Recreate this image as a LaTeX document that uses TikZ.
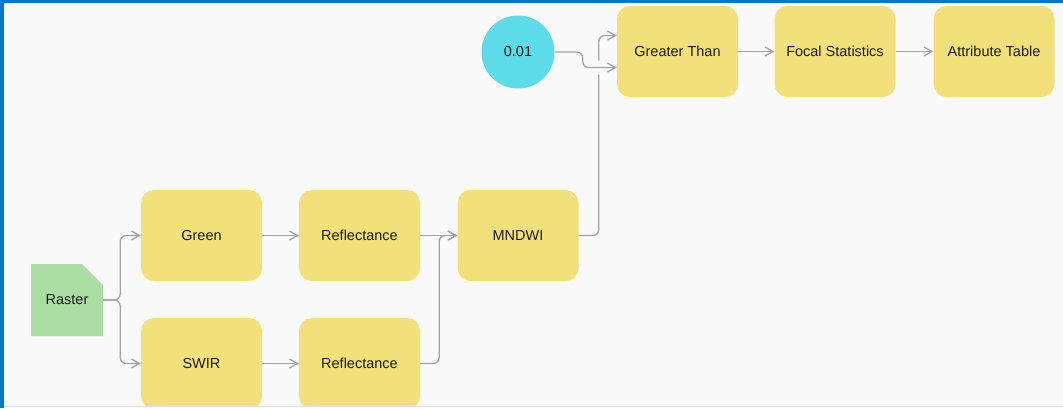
\documentclass[tikz,border=0pt]{standalone}
\usepackage{fontspec}
\setmainfont{Liberation Sans}
\usetikzlibrary{arrows.meta,calc}
\definecolor{canvas}{HTML}{F9F9F9}
\definecolor{frame}{HTML}{0877CB}
\definecolor{tool}{HTML}{F2E17A}
\definecolor{data}{HTML}{ABDCA4}
\definecolor{value}{HTML}{5EDBE8}
\definecolor{wire}{HTML}{A3A3A3}
\definecolor{ink}{HTML}{1C1C1C}
\tikzset{
  stepbox/.style={rectangle, rounded corners=13pt, fill=tool, minimum width=121pt,
    minimum height=91pt, inner sep=0pt, text=ink, font=\fontsize{14.5pt}{17pt}\selectfont},
  valnode/.style={circle, fill=value, minimum size=73pt, inner sep=0pt, text=ink,
    font=\fontsize{14.5pt}{17pt}\selectfont},
  datanode/.style={rectangle, minimum width=72pt, minimum height=72pt, inner sep=0pt,
    text=ink, font=\fontsize{14.5pt}{17pt}\selectfont},
  conn/.style={draw=wire, line width=1.3pt, rounded corners=6pt,
    -{Straight Barb[length=8pt,width=9pt,line width=1.3pt]}},
  gap/.style={draw=canvas, line width=14pt, rounded corners=6pt}
}
\begin{document}
\begin{tikzpicture}[x=1pt,y=-1pt]
  % canvas and frame
  \fill[canvas] (0,0) rectangle (1063,408);
  \useasboundingbox (0,0) rectangle (1063,408);
  \begin{scope}
  \clip (0,0) rectangle (1063,406);

  % input raster with folded corner
  \fill[data] (31,264) -- (82,264) -- (103,285) -- (103,336) -- (31,336) -- cycle;
  \node[datanode] (raster) at (67,300) {Raster};

  % processing steps
  \node[stepbox] (green) at (201.5,235.5) {Green};
  \node[stepbox] (swir)  at (201.5,363.5) {SWIR};
  \node[stepbox] (refa)  at (359.5,235.5) {Reflectance};
  \node[stepbox] (refb)  at (359.5,363.5) {Reflectance};
  \node[stepbox] (mndwi) at (518,235.5) {MNDWI};
  \node[valnode] (thr)   at (518,52) {0.01};
  \node[stepbox] (gt)    at (677.5,51.5) {Greater Than};
  \node[stepbox] (focal) at (835,51.5) {Focal Statistics};
  \node[stepbox] (attr)  at (994,51.5) {Attribute Table};

  % connectors
  \draw[conn] (raster.east) -- ++(17,0) |- (green.west);
  \draw[conn] (raster.east) -- ++(17,0) |- (swir.west);
  \draw[conn] (green.east) -- (refa.west);
  \draw[conn] (swir.east) -- (refb.west);
  \draw[conn] (refa.east) -- (mndwi.west);
  \draw[conn] (refb.east) -- ++(19,0) |- (mndwi.west);
  \draw[conn] (mndwi.east) -- ++(20,0) |- ([yshift=16pt]gt.west);
  \draw[gap] (thr.east) -- ++(28,0) |- ([yshift=-16pt]gt.west);
  \draw[conn] (thr.east) -- ++(28,0) |- ([yshift=-16pt]gt.west);
  \draw[conn] (gt.east) -- (focal.west);
  \draw[conn] (focal.east) -- (attr.west);
  \end{scope}

  % window edges
  \fill[frame] (0,0) rectangle (1063,3);
  \fill[frame] (0,0) rectangle (4,408);
  \fill[black!12] (4,406) rectangle (1063,408);
  \fill[canvas] (4,407.2) rectangle (1063,408);
\end{tikzpicture}
\end{document}
